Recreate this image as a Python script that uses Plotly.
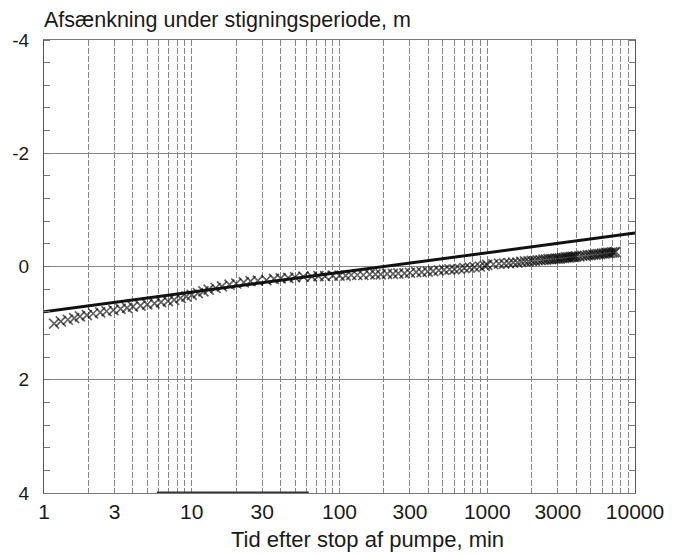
import plotly.graph_objects as go

# Recovery test: residual drawdown versus time since the pump stopped
time_min = [
    1.17, 1.3, 1.45, 1.6, 1.75, 1.95, 2.15, 2.4, 2.65, 2.95, 3.3, 3.65, 4.0,
    4.5, 5.0, 5.6, 6.2, 6.9, 7.6, 8.4, 9.2, 10, 11, 12, 13, 14.5, 16, 18,
    20, 22.5, 25, 28, 32, 36, 40, 45, 50, 57, 65, 72, 80, 90, 100, 110, 120,
    132, 145, 160, 175, 190, 210, 230, 250, 275, 300, 330, 360, 395, 430,
    470, 510, 555, 600, 650, 700, 760, 820, 890, 960,
    1000, 1100, 1200, 1300, 1400, 1500, 1600, 1700, 1800, 1900, 2000, 2100,
    2200, 2300, 2400, 2500, 2600, 2700, 2800, 2900, 3000, 3100, 3200, 3300,
    3400, 3500, 3600, 3700, 3800, 3900, 4000, 4200, 4400, 4600, 4800, 5000,
    5200, 5400, 5600, 5800, 6000, 6200, 6400, 6600, 6800, 7000, 7200, 7400,
]
drawdown_m = [
    1.01, 0.97, 0.94, 0.91, 0.88, 0.86, 0.83, 0.81, 0.79, 0.77, 0.75, 0.73, 0.71,
    0.69, 0.67, 0.65, 0.63, 0.61, 0.59, 0.56, 0.53, 0.50, 0.47, 0.44, 0.41, 0.38, 0.35, 0.32,
    0.30, 0.28, 0.26, 0.25, 0.24, 0.22, 0.21, 0.20, 0.19, 0.18, 0.18, 0.17, 0.17, 0.16, 0.16, 0.16, 0.15,
    0.15, 0.15, 0.14, 0.14, 0.14, 0.13, 0.13, 0.12, 0.12, 0.11, 0.10, 0.10, 0.09, 0.08,
    0.07, 0.06, 0.05, 0.05, 0.04, 0.03, 0.02, 0.01, 0.00, -0.01,
    -0.03, -0.04, -0.05, -0.05, -0.06, -0.07, -0.07, -0.08, -0.09, -0.09, -0.10, -0.10,
    -0.11, -0.11, -0.12, -0.12, -0.13, -0.13, -0.13, -0.14, -0.14, -0.14, -0.15, -0.15,
    -0.16, -0.16, -0.16, -0.17, -0.17, -0.17, -0.18, -0.18, -0.19, -0.19, -0.20, -0.20,
    -0.21, -0.21, -0.22, -0.22, -0.23, -0.23, -0.24, -0.24, -0.24, -0.25, -0.25, -0.26,
]

# Fitted straight line (semi-log)
fit_time = [1, 10000]
fit_drawdown = [0.80, -0.59]

# Dark stretch along the lower frame
base_time = [5.8, 62]
base_level = [4, 4]

x_tickvals = [1, 3, 10, 30, 100, 300, 1000, 3000, 10000]
x_ticktext = ["1", "3", "10", "30", "100", "300", "1000", "3000", "10000"]
x_minorvals = [m * d for d in (1, 10, 100, 1000) for m in (2, 4, 5, 6, 7, 8, 9)]
y_tickvals = [-4, -2, 0, 2, 4]
y_ticktext = ["-4", "-2", "0", "2", "4"]

FONT = "Liberation Sans, Arial, sans-serif"
GRID = "#858585"
INK = "#1a1a1a"

fig = go.Figure()
fig.add_trace(go.Scatter(
    x=base_time, y=base_level, mode="lines",
    line=dict(color="#333333", width=3), cliponaxis=False, hoverinfo="skip",
))
fig.add_trace(go.Scatter(
    x=time_min, y=drawdown_m, mode="markers",
    marker=dict(symbol="x-thin", size=10,
                line=dict(color="rgba(0,0,0,0.62)", width=1.7)),
))
fig.add_trace(go.Scatter(
    x=fit_time, y=fit_drawdown, mode="lines",
    line=dict(color="#111111", width=3),
))

fig.update_layout(
    width=676, height=555,
    margin=dict(l=40, r=34, t=40, b=62),
    paper_bgcolor="white", plot_bgcolor="white",
    showlegend=False,
    font=dict(family=FONT, color=INK),
    xaxis=dict(
        type="log", range=[0, 4],
        tickmode="array", tickvals=x_tickvals, ticktext=x_ticktext,
        ticks="", ticklabelstandoff=0,
        tickfont=dict(size=21, family=FONT, color=INK),
        showgrid=True, gridcolor=GRID, gridwidth=1, griddash="6px,2px",
        minor=dict(tickvals=x_minorvals, showgrid=True, gridcolor=GRID,
                   gridwidth=1, griddash="6px,2px", ticks=""),
        showline=True, linecolor="#7a7a7a", linewidth=1, mirror=True,
        zeroline=False,
    ),
    yaxis=dict(
        range=[4, -4],
        tickmode="array", tickvals=y_tickvals, ticktext=y_ticktext,
        ticks="", ticklabelstandoff=10,
        tickfont=dict(size=19, family=FONT, color=INK),
        showgrid=True, gridcolor=GRID, gridwidth=1,
        minor=dict(dtick=0.4, ticks="inside", ticklen=6, tickcolor="#777",
                   showgrid=False),
        showline=True, linecolor="#555", linewidth=1, mirror="ticks",
        zeroline=False,
    ),
    annotations=[
        dict(text="Afsænkning under stigningsperiode, m", xref="paper", yref="paper",
             x=0, y=1, xanchor="left", yanchor="bottom", xshift=-2, yshift=6,
             showarrow=False,
             font=dict(size=21.5, family=FONT, color=INK)),
        dict(text="Tid efter stop af pumpe, min", xref="paper", yref="paper",
             x=0.548, y=0, xanchor="center", yanchor="top", yshift=-32, showarrow=False,
             font=dict(size=22, family=FONT, color=INK)),
    ],
)

fig.write_html("out.html")
